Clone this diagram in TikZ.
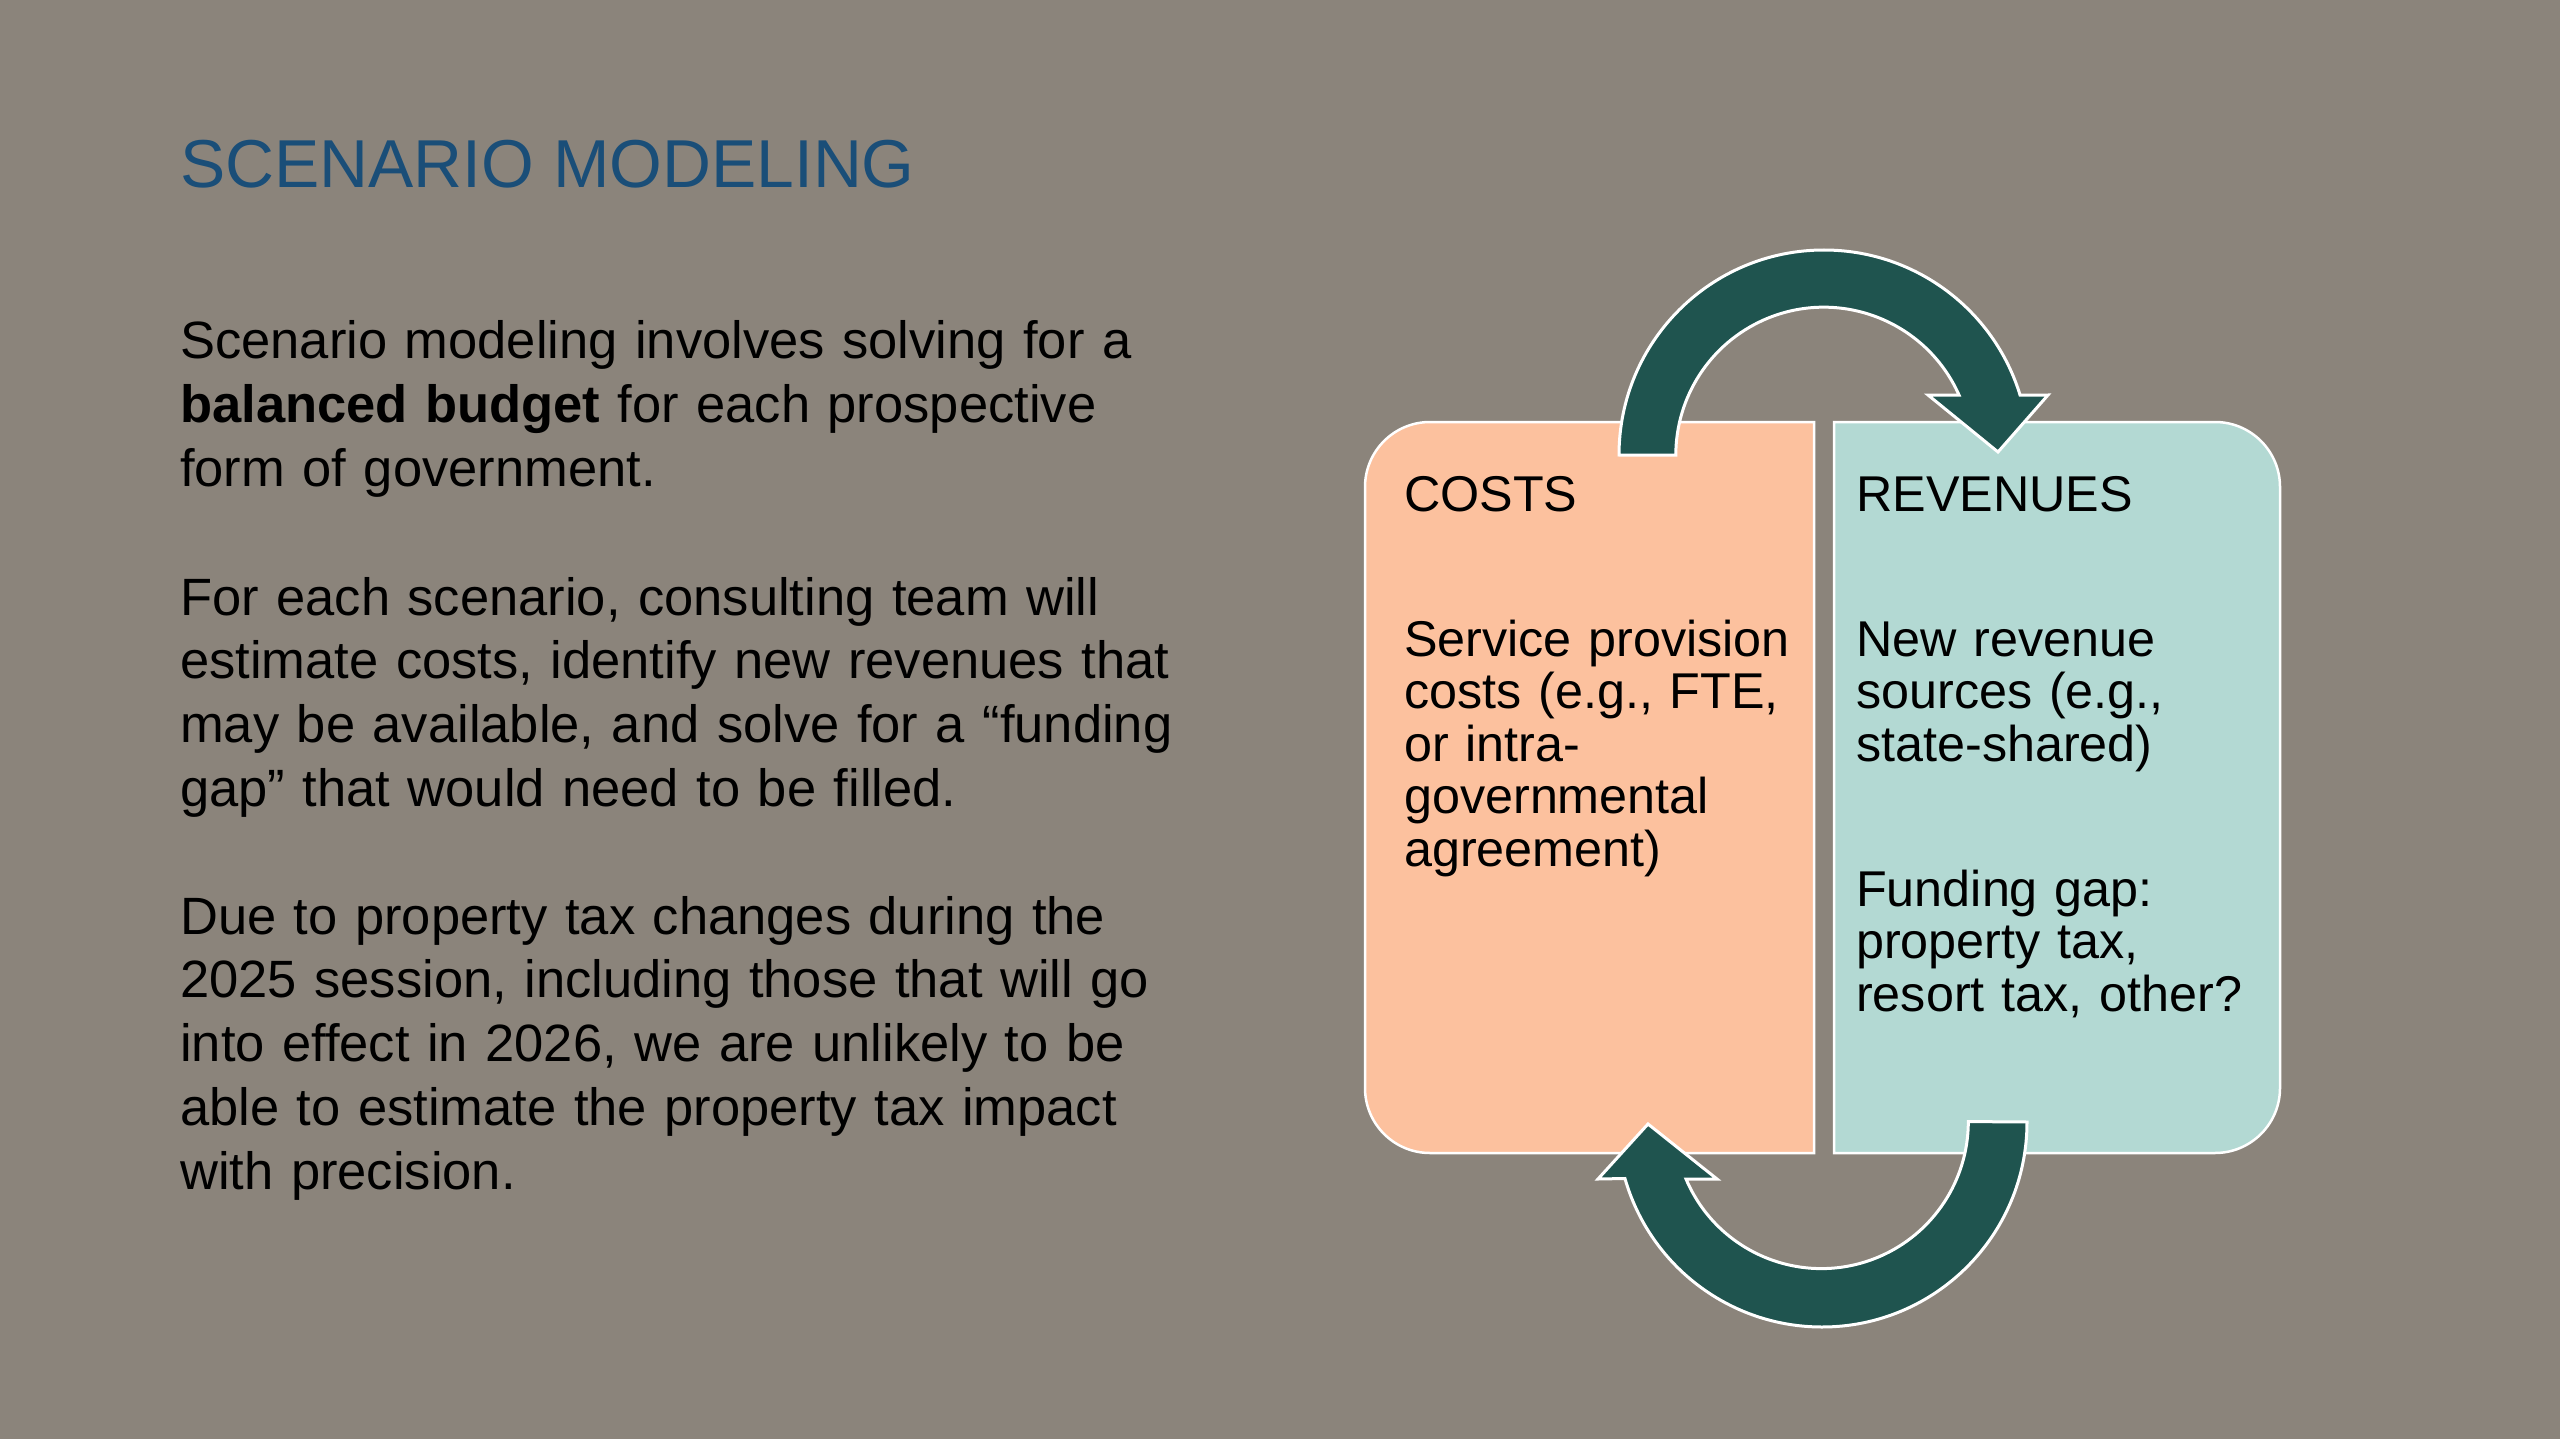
\documentclass[tikz,border=0pt]{standalone}
\usepackage{fontspec}
\setmainfont{Liberation Sans}
\usepackage{xcolor}
\usetikzlibrary{positioning}

\definecolor{slidebg}{RGB}{139,132,123}
\definecolor{titleblue}{RGB}{26,78,120}
\definecolor{costfill}{RGB}{252,193,158}
\definecolor{revfill}{RGB}{179,217,211}
\definecolor{loopteal}{RGB}{31,84,79}

\tikzset{
  bodytext/.style={anchor=base west,inner sep=0pt,text width=1200pt,align=left,
    font=\fontsize{52.5}{63.9}\selectfont},
  boxtext/.style={anchor=base west,inner sep=0pt,text width=420pt,align=left,
    font=\fontsize{50.3}{52.6}\selectfont},
  panel/.style={draw=white,line width=2.5pt},
  looparrow/.style={fill=loopteal,draw=white,line width=3pt},
}

\begin{document}
\begin{tikzpicture}[x=1pt,y=-1pt]
    \useasboundingbox (0,0) rectangle (2560,1439);
    \fill[slidebg] (0,0) rectangle (2560,1439);

    \node[anchor=base west,inner sep=0pt,text=titleblue,font=\fontsize{67.8}{80}\selectfont] (title) at (180,188) {SCENARIO MODELING};

    \node[bodytext] (balance) at (180,359) {Scenario modeling involves solving for a\\
      \textbf{balanced budget} for each prospective\\
      form of government.};
    \node[bodytext] (estimate) at (180,615) {For each scenario, consulting team will\\
      estimate costs, identify new revenues that\\
      may be available, and solve for a “funding\\
      gap” that would need to be filled.};
    \node[bodytext] (caveat) at (180,934) {Due to property tax changes during the\\
      2025 session, including those that will go\\
      into effect in 2026, we are unlikely to be\\
      able to estimate the property tax impact\\
      with precision.};

    % the two panels
    \draw[panel,fill=costfill] (1814,422) -- (1430,422) arc[start angle=270,end angle=180,radius=65]
      -- (1365,1088) arc[start angle=180,end angle=90,radius=65] -- (1814,1153) -- cycle;
    \draw[panel,fill=revfill] (1834,422) -- (2215,422) arc[start angle=270,end angle=360,radius=65]
      -- (2280,1088) arc[start angle=0,end angle=90,radius=65] -- (1834,1153) -- cycle;

    \node[boxtext] (costs) at (1404,511) {COSTS};
    \node[boxtext] (costitems) at (1404,656) {Service provision\\
      costs (e.g., FTE,\\
      or intra-\\
      governmental\\
      agreement)};
    \node[boxtext] (revenues) at (1856,511) {REVENUES};
    \node[boxtext] (revitems) at (1856,656) {New revenue\\
      sources (e.g.,\\
      state-shared)};
    \node[boxtext] (fundgap) at (1856,906) {Funding gap:\\
      property tax,\\
      resort tax, other?};

    % cycle arrows
    \draw[looparrow] (1619,455) arc[start angle=180,end angle=343,radius=205]
      -- (2048,395) -- (1998,452) -- (1928,395)
      -- (1959,395) arc[start angle=336,end angle=180,radius=148] -- cycle;
    \draw[looparrow] (2027,1122) arc[start angle=0,end angle=164,radius=205]
      -- (1598,1179) -- (1648,1124) -- (1717,1179)
      -- (1686,1179) arc[start angle=157,end angle=0,radius=147] -- cycle;
\end{tikzpicture}
\end{document}
